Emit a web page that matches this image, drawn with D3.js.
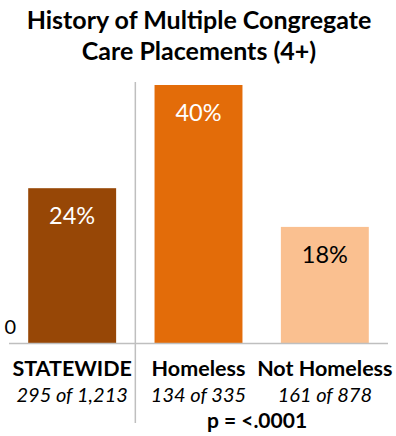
<!DOCTYPE html>
<html>
<head>
<meta charset="utf-8">
<script src="https://cdn.jsdelivr.net/npm/d3@7"></script>
<style>
  html, body { margin: 0; padding: 0; background: #fff; }
  svg { display: block; font-family: Lato, "Open Sans", sans-serif; }
</style>
</head>
<body>
<svg id="chart" width="396" height="436"></svg>
<script>
// Chart data
const titleLines = ["History of Multiple Congregate", "Care Placements (4+)"];
const categories = ["STATEWIDE", "Homeless", "Not Homeless"];
const percents = [24, 40, 18];
const counts = ["295 of 1,213", "134 of 335", "161 of 878"];
const barColors = ["#974706", "#E36C09", "#FAC090"];
const valueTextColors = ["#ffffff", "#ffffff", "#000000"];
const yTicks = [0];
const pValue = "p = <.0001";

const svg = d3.select("#chart");
const baseline = 343;

const x = d3.scaleBand()
  .domain(categories)
  .range([9, 388])
  .paddingInner(0.304)
  .paddingOuter(0.152);

const y = d3.scaleLinear()
  .domain([0, 45])
  .range([baseline, baseline - 45 * 6.45]);

// Title
svg.append("g").selectAll("text")
  .data(titleLines)
  .join("text")
  .attr("x", 199)
  .attr("y", (d, i) => 29 + i * 31)
  .attr("text-anchor", "middle")
  .attr("font-weight", "bold")
  .attr("font-size", 25)
  .attr("fill", "#000")
  .text(d => d);

// Bars
svg.append("g").selectAll("rect")
  .data(percents)
  .join("rect")
  .attr("x", (d, i) => x(categories[i]))
  .attr("width", x.bandwidth())
  .attr("y", d => y(d))
  .attr("height", d => y(0) - y(d))
  .attr("fill", (d, i) => barColors[i]);

// Value labels inside bars
svg.append("g").selectAll("text")
  .data(percents)
  .join("text")
  .attr("x", (d, i) => x(categories[i]) + x.bandwidth() / 2)
  .attr("y", d => y(d) + 36)
  .attr("text-anchor", "middle")
  .attr("font-size", 23.5)
  .attr("fill", (d, i) => valueTextColors[i])
  .text(d => d + "%");

// Baseline axis
const yAxis = d3.axisLeft(y).tickValues(yTicks).tickSize(0).tickPadding(0);
const gy = svg.append("g").attr("transform", "translate(16,0)").call(yAxis);
gy.select(".domain").remove();
gy.selectAll(".tick text")
  .attr("font-family", "Lato, 'Open Sans', sans-serif")
  .attr("font-size", 20)
  .attr("fill", "#000")
  .attr("dy", "-0.5em");

svg.append("line")
  .attr("x1", x.range()[0]).attr("x2", x.range()[1])
  .attr("y1", y(0) + 0.5).attr("y2", y(0) + 0.5)
  .attr("stroke", "#bfbfbf")
  .attr("stroke-width", 1.5);

// Separator between statewide and subgroups
const sepX = x.range()[0] + x.step();
svg.append("line")
  .attr("x1", sepX).attr("x2", sepX)
  .attr("y1", 82).attr("y2", 423)
  .attr("stroke", "#bfbfbf")
  .attr("stroke-width", 1.5);

// Category labels
svg.append("g").selectAll("text")
  .data(categories)
  .join("text")
  .attr("x", d => x(d) + x.bandwidth() / 2)
  .attr("y", 376)
  .attr("text-anchor", "middle")
  .attr("font-weight", "bold")
  .attr("font-size", 21.5)
  .attr("fill", "#000")
  .text(d => d);

// Counts
svg.append("g").selectAll("text")
  .data(counts)
  .join("text")
  .attr("x", (d, i) => x(categories[i]) + x.bandwidth() / 2)
  .attr("y", 402)
  .attr("text-anchor", "middle")
  .attr("font-style", "italic")
  .attr("font-size", 20)
  .attr("fill", "#000")
  .text(d => d);

// Significance note
svg.append("text")
  .attr("x", 257)
  .attr("y", 428)
  .attr("text-anchor", "middle")
  .attr("font-weight", "bold")
  .attr("font-size", 21)
  .attr("fill", "#000")
  .text(pValue);
</script>
</body>
</html>
